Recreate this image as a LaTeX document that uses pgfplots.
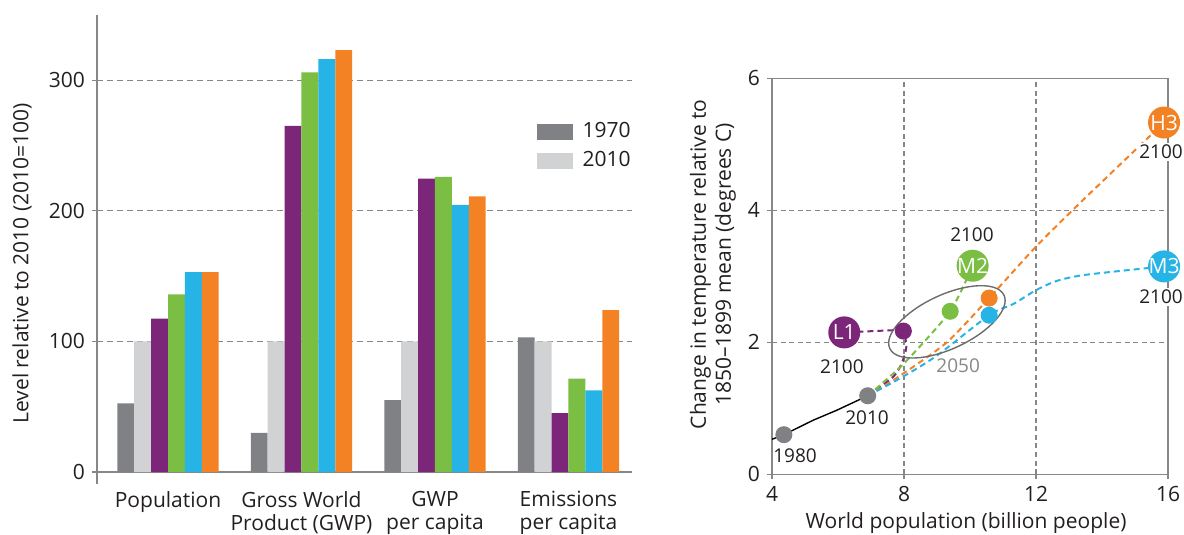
\documentclass[border=0pt]{standalone}
\usepackage{pgfplots}
\usepackage{pgfplotstable}
\pgfplotsset{compat=1.18}
\usepackage{fontspec}
\setmainfont{Open Sans}
\usetikzlibrary{shapes.geometric}

\definecolor{darkgrey}{RGB}{128,129,133}
\definecolor{lightgrey}{RGB}{209,210,212}
\definecolor{scpurple}{RGB}{123,38,121}
\definecolor{scgreen}{RGB}{122,190,67}
\definecolor{scblue}{RGB}{38,180,230}
\definecolor{scorange}{RGB}{243,130,36}
\definecolor{gridgrey}{RGB}{135,135,135}
\definecolor{txt}{RGB}{35,31,32}

\newcommand{\lab}{\fontsize{10.5}{12.5}\selectfont}
\newcommand{\cat}{\fontsize{10.5}{11.6}\selectfont}
\newcommand{\yr}{\fontsize{9.5}{11}\selectfont}

% bar data, level relative to 2010 (2010=100)
\pgfplotstableread{
x  y1970 y2010 L1    M2   M3    H3
0  52.5  100   117.5 136  153   153
1  30    100   265   306  316   323
2  55    100   224.5 226  204.5 211
3  103   100   45    71.5 62.5  124
}\bardata

\begin{document}
\begin{tikzpicture}
\path[use as bounding box] (0,0) rectangle (592pt,267.5pt);

% left: bars
\begin{axis}[
    at={(48.5pt,25.6pt)}, anchor=south west,
    scale only axis, width=267.5pt, height=234.5pt,
    ybar=0pt, bar width=8.45pt,
    xmin=-0.532, xmax=3.476, ymin=-9, ymax=350,
    axis x line*=bottom, axis y line*=left,
    x axis line style={draw=none},
    y axis line style={gridgrey, line width=0.6pt},
    xtick={0,1,2,3},
    xticklabels={Population, {Gross World\\Product (GWP)}, {GWP\\per capita}, {Emissions\\per capita}},
    xtick style={draw=none},
    xticklabel style={align=center, anchor=north, font=\cat, text=txt, yshift=2.3pt},
    ytick={100,200,300},
    extra y ticks={0},
    extra y tick style={grid=major, grid style={solid, gridgrey, line width=0.8pt}},
    ymajorgrids,
    grid style={gridgrey, line width=0.6pt, dash pattern=on 3pt off 2pt},
    tick align=outside, major tick length=2.5pt,
    ytick style={gridgrey, line width=0.6pt},
    yticklabel style={font=\lab, text=txt},
    /pgf/number format/assume math mode=true,
    ylabel={Level relative to 2010 (2010=100)},
    ylabel style={at={(axis description cs:-0.14,0.47)}, anchor=center, font=\lab, text=txt},
    legend style={draw=none, fill=none, at={(1,0.788)}, anchor=north east, xshift=4.5pt,
        font=\lab, text=txt, row sep=1.3pt},
    legend cell align=left,
    legend image code/.code={\fill[#1] (0pt,-4pt) rectangle (18.3pt,4pt); \path (21pt,0pt);},
]
\addplot[fill=darkgrey, draw=none] table[x=x, y=y1970] {\bardata};
\addplot[fill=lightgrey, draw=none] table[x=x, y=y2010] {\bardata};
\addplot[fill=scpurple, draw=none] table[x=x, y=L1] {\bardata};
\addplot[fill=scgreen, draw=none] table[x=x, y=M2] {\bardata};
\addplot[fill=scblue, draw=none] table[x=x, y=M3] {\bardata};
\addplot[fill=scorange, draw=none] table[x=x, y=H3] {\bardata};
\legend{1970,2010}
\end{axis}

% right: temperature vs population
\begin{axis}[
    at={(386pt,30.35pt)}, anchor=south west,
    scale only axis, width=198pt, height=198pt,
    xmin=4, xmax=16, ymin=0, ymax=6,
    xtick={4,8,12,16}, ytick={0,2,4,6},
    grid=major,
    grid style={gridgrey, line width=0.6pt, dash pattern=on 2.5pt off 1.8pt},
    axis line style={gridgrey, line width=0.7pt},
    tick align=outside, major tick length=2.5pt,
    tick style={gridgrey, line width=0.6pt},
    xtick pos=left, ytick pos=left,
    ticklabel style={font=\lab, text=txt},
    /pgf/number format/assume math mode=true,
    xlabel={World population (billion people)},
    xlabel style={at={(axis description cs:0.49,-0.123)}, anchor=center, font=\lab, text=txt},
    ylabel={Change in temperature relative to\\1850--1899 mean (degrees C)},
    ylabel style={at={(axis description cs:-0.149,0.53)}, anchor=center, align=center, font=\lab, text=txt},
    clip=false,
    every axis plot/.append style={line width=1pt},
]
% history
\addplot[black, line width=0.7pt] coordinates {(4.0,0.53) (4.36,0.6) (5.25,0.82) (5.96,0.97) (6.9,1.19)};
% scenario paths
\addplot[scpurple, dash pattern=on 3pt off 2pt, smooth, tension=0.5] coordinates {(6.9,1.19) (7.2,1.3) (7.68,1.48) (7.93,1.68) (8.07,1.93) (8.0,2.17)};
\addplot[scpurple, dash pattern=on 3pt off 2pt] coordinates {(7.98,2.19) (6.19,2.15)};
\addplot[scgreen, dash pattern=on 3pt off 2pt, smooth, tension=0.4] coordinates {(6.9,1.19) (8.0,1.68) (9.40,2.47) (10.08,3.16)};
\addplot[scorange, dash pattern=on 3pt off 2pt, smooth, tension=0.4] coordinates {(6.9,1.19) (7.9,1.5) (9.3,2.0) (10.58,2.67) (12.0,3.45) (13.33,4.11) (15.88,5.33)};
\addplot[scblue, dash pattern=on 3pt off 2pt, smooth, tension=0.5] coordinates {(6.9,1.19) (7.9,1.46) (9.0,1.8) (10.58,2.41) (11.31,2.58) (12.0,2.79) (12.63,2.93) (13.33,3.01) (14.34,3.07) (15.88,3.15)};
% ellipse round the 2050 points
\node[draw=gridgrey!80!black, line width=0.7pt, ellipse, rotate=25, minimum width=63pt, minimum height=27pt, inner sep=0pt] at (axis cs:9.3,2.31) {};
% points
\addplot[only marks, mark=*, mark size=3.75pt, darkgrey] coordinates {(4.36,0.6) (6.9,1.19)};
\addplot[only marks, mark=*, mark size=3.75pt, scpurple] coordinates {(7.98,2.17)};
\addplot[only marks, mark=*, mark size=3.75pt, scgreen] coordinates {(9.40,2.47)};
\addplot[only marks, mark=*, mark size=3.75pt, scorange] coordinates {(10.58,2.67)};
\addplot[only marks, mark=*, mark size=3.75pt, scblue] coordinates {(10.58,2.41)};
% 2100 scenarios
\pgfplotsset{big/.style={only marks, mark=*, mark size=7.5pt, point meta=explicit symbolic,
    nodes near coords, every node near coord/.append style={anchor=center, text=white, font=\lab}}}
\addplot[big, scpurple] coordinates {(6.19,2.15) [L1]};
\addplot[big, scgreen] coordinates {(10.08,3.16) [M2]};
\addplot[big, scorange] coordinates {(15.88,5.33) [H3]};
\addplot[big, scblue] coordinates {(15.88,3.15) [M3]};
% year labels
\node[font=\yr, text=txt] at (axis cs:4.70,0.28) {1980};
\node[font=\yr, text=txt] at (axis cs:6.88,0.85) {2010};
\node[font=\yr, text=txt] at (axis cs:6.12,1.63) {2100};
\node[font=\yr, text=gridgrey] at (axis cs:9.64,1.64) {2050};
\node[font=\yr, text=txt] at (axis cs:10.06,3.63) {2100};
\node[font=\yr, text=txt, fill=white, inner sep=1pt] at (axis cs:15.79,4.89) {2100};
\node[font=\yr, text=txt, fill=white, inner sep=1pt] at (axis cs:15.79,2.69) {2100};
\end{axis}
\end{tikzpicture}
\end{document}
